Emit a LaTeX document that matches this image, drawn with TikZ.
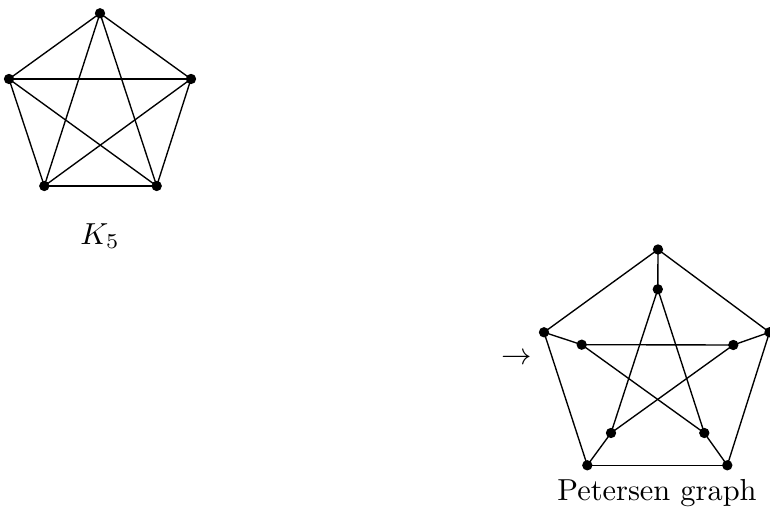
\documentclass[tikz,border=0pt]{standalone}
\begin{document}
\begin{tikzpicture}[x=0.329pt,y=-0.329pt,
  vtx/.style={circle,fill=black,inner sep=0pt,minimum size=3.4pt},
  edge/.style={line width=0.45pt}]
\useasboundingbox (0,0) rectangle (770,508);
% K5
\node[vtx] (a1) at (100,13.3) {};
\node[vtx] (a2) at (9,79) {};
\node[vtx] (a3) at (191,79) {};
\node[vtx] (a4) at (44.3,186) {};
\node[vtx] (a5) at (156.7,186) {};
\foreach \u/\v in {a1/a2,a1/a3,a1/a4,a1/a5,a2/a3,a2/a4,a2/a5,a3/a4,a3/a5,a4/a5}
  \draw[edge] (\u.center) -- (\v.center);
\node (k5) at (100,236) {$K_5$};
% arrow
\node (arr) at (517,359) {$\rightarrow$};
% Petersen
\node[vtx] (o1) at (658,249.5) {};
\node[vtx] (o2) at (544,332.3) {};
\node[vtx] (o3) at (769.5,332.3) {};
\node[vtx] (o4) at (587.3,465.3) {};
\node[vtx] (o5) at (727.3,465.3) {};
\node[vtx] (i1) at (657.8,289.3) {};
\node[vtx] (i2) at (581.7,344.7) {};
\node[vtx] (i3) at (733.3,345) {};
\node[vtx] (i4) at (611,433) {};
\node[vtx] (i5) at (704.3,433) {};
\foreach \u/\v in {o1/o2,o1/o3,o2/o4,o3/o5,o4/o5,o1/i1,o2/i2,o3/i3,o4/i4,o5/i5,i1/i4,i1/i5,i2/i3,i2/i5,i3/i4}
  \draw[edge] (\u.center) -- (\v.center);
\node (pg) at (657,493) {Petersen graph};
\end{tikzpicture}
\end{document}
